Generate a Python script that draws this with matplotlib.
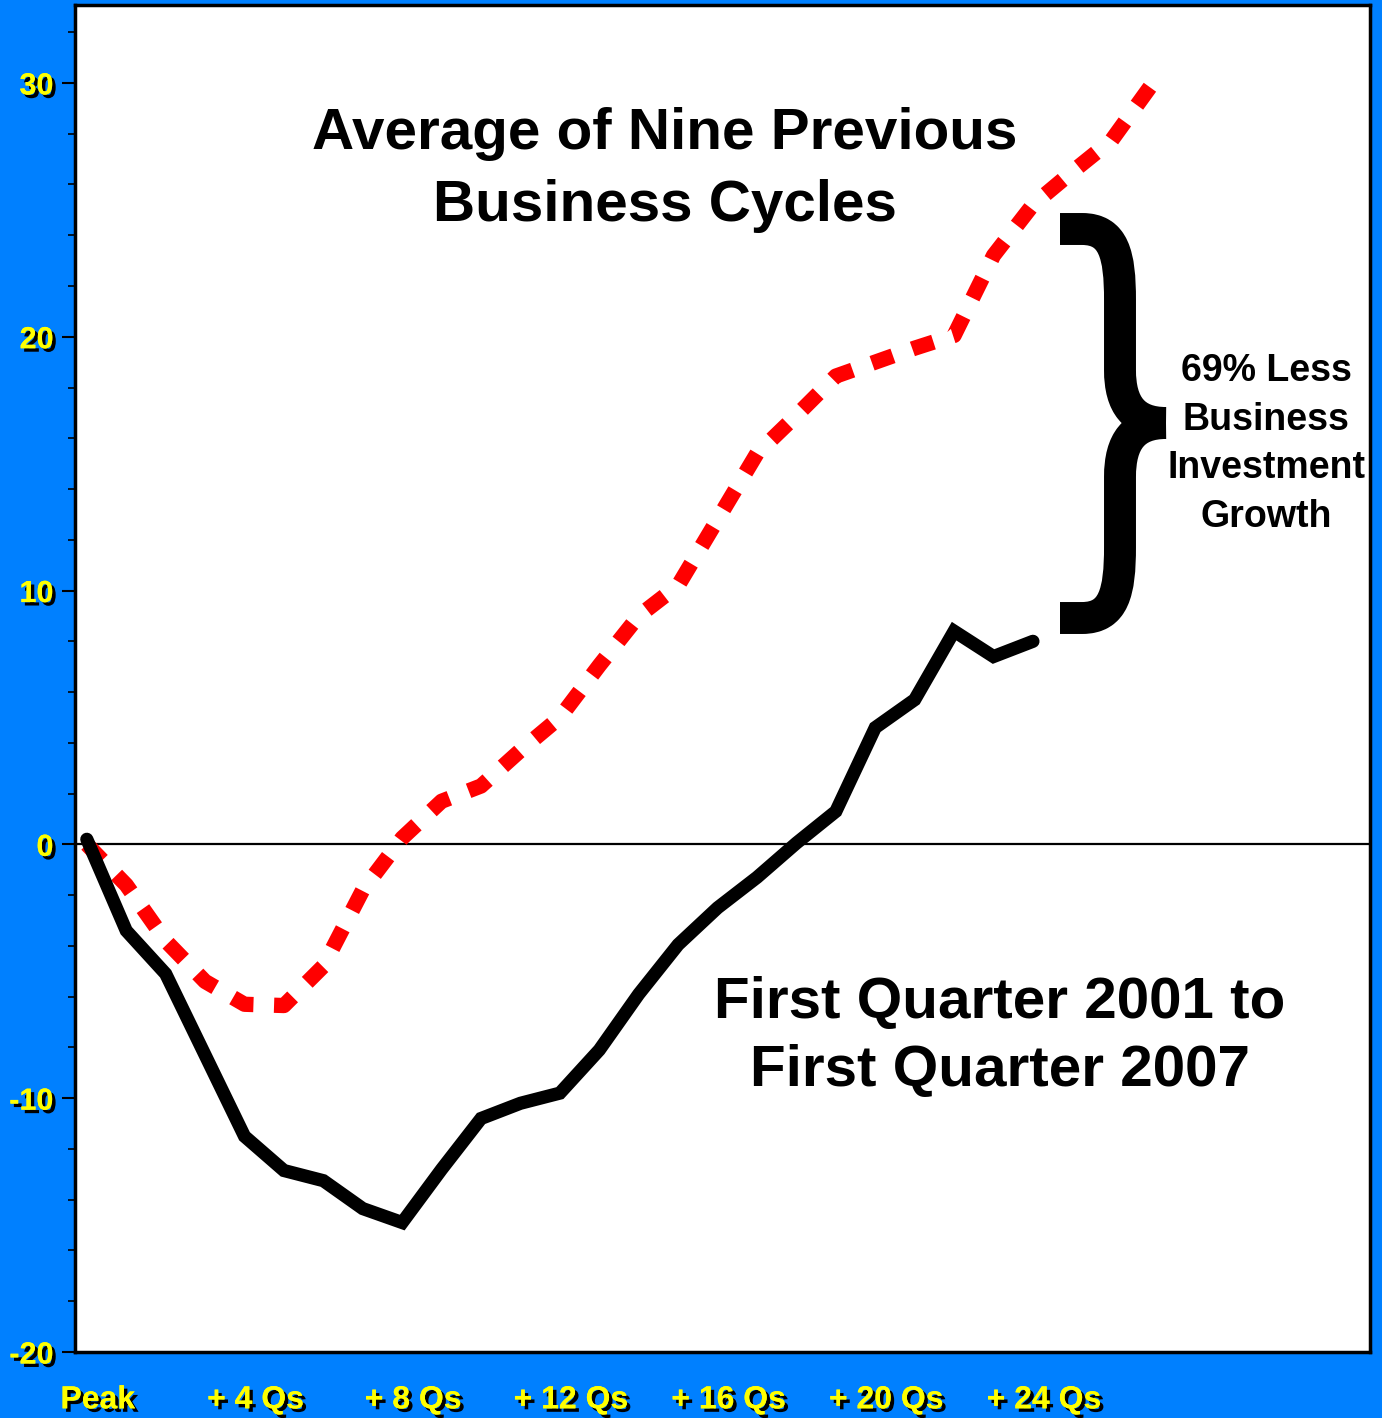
import numpy as np
import matplotlib
matplotlib.use("Agg")
import matplotlib.pyplot as plt
import matplotlib.patheffects as pe
from matplotlib.path import Path
from matplotlib.patches import PathPatch
from matplotlib.transforms import ScaledTranslation

plt.rcParams["axes.unicode_minus"] = False

# quarters after the business-cycle peak
current_q = list(range(0, 25))
current_cycle = [0.2, -3.4, -5.1, -8.3, -11.5, -12.85, -13.25, -14.35, -14.9,
                 -12.8, -10.8, -10.2, -9.8, -8.1, -5.9, -3.95, -2.5, -1.3,
                 0.05, 1.3, 4.6, 5.7, 8.4, 7.4, 8.0]

average_q = list(range(0, 28))
average_cycle = [0.0, -1.6, -3.8, -5.4, -6.3, -6.35, -4.8, -1.8, 0.25, 1.7,
                 2.3, 3.7, 5.0, 7.05, 9.0, 10.2, 12.8, 15.4, 16.9, 18.45,
                 19.0, 19.55, 20.05, 23.2, 25.2, 26.5, 27.75, 29.9]

tick_q = [0, 4, 8, 12, 16, 20, 24]
tick_labels = ["Peak", "+ 4 Qs", "+ 8 Qs", "+ 12 Qs", "+ 16 Qs", "+ 20 Qs", "+ 24 Qs"]

BLUE = "#0080FF"
YELLOW = "#FFFF00"
W, H = 1382, 1418

fig = plt.figure(figsize=(W / 100, H / 100), dpi=100, facecolor=BLUE)
ax = fig.add_axes([75 / W, 1 - 1352 / H, (1370 - 75) / W, (1352 - 5) / H])
ax.set_facecolor("white")

ax.axhline(0, color="black", lw=1.6, zorder=1)
ax.plot(average_q, average_cycle, color="#FF0000", lw=11, ls=(0, (1.45, 1.35)),
        dash_capstyle="butt", zorder=2)
ax.plot(current_q, current_cycle, color="black", lw=9.5, solid_capstyle="round",
        solid_joinstyle="miter", zorder=3)

ax.set_xlim(-0.3, 32.55)
ax.set_ylim(-20, 33.07)

for s in ax.spines.values():
    s.set_linewidth(2.5)
    s.set_color("black")

font = ["Liberation Sans", "DejaVu Sans"]
shadow = [pe.withSimplePatchShadow(offset=(2.5, -2.5), shadow_rgbFace="black", alpha=1.0),
          pe.Normal()]

ax.set_yticks([-20, -10, 0, 10, 20, 30])
ax.set_yticks(np.arange(-20, 34, 2), minor=True)
ax.tick_params(axis="y", which="major", length=9.5, width=1.5, color="black",
               direction="out", pad=6)
ax.tick_params(axis="y", which="minor", length=5, width=1.2, color="black",
               direction="out")
for lab in ax.get_yticklabels():
    lab.set_family(font)
    lab.set_fontweight("bold")
    lab.set_fontsize(22)
    lab.set_color(YELLOW)
    lab.set_path_effects(shadow)

ax.set_xticks(tick_q)
ax.set_xticklabels(tick_labels)
ax.tick_params(axis="x", length=0, pad=24)
shift = ScaledTranslation(11 / 100, 0, fig.dpi_scale_trans)
for lab in ax.get_xticklabels():
    lab.set_family(font)
    lab.set_fontweight("bold")
    lab.set_fontsize(23)
    lab.set_color(YELLOW)
    lab.set_path_effects(shadow)
    lab.set_transform(lab.get_transform() + shift)

fig.text(665 / W, 1 - 170 / H, "Average of Nine Previous\nBusiness Cycles",
         ha="center", va="center", family=font, fontweight="bold", fontsize=42,
         linespacing=1.45)
fig.text(1000 / W, 1 - 1037 / H, "First Quarter 2001 to\nFirst Quarter 2007",
         ha="center", va="center", family=font, fontweight="bold", fontsize=42,
         linespacing=1.34)
fig.text(1266 / W, 1 - 444 / H, "69% Less\nBusiness\nInvestment\nGrowth",
         ha="center", va="center", family=font, fontweight="bold", fontsize=27,
         linespacing=1.45)


# curly brace drawn in figure pixels
def px(x, y):
    return (x / W, 1 - y / H)


top_half = [px(1060, 229), px(1082, 229), px(1114, 229), px(1120, 255), px(1120, 300),
            px(1120, 370), px(1120, 405), px(1134, 423), px(1166, 423)]
bot_half = [px(1060, 618), px(1082, 618), px(1114, 618), px(1120, 592), px(1120, 547),
            px(1120, 477), px(1120, 441), px(1134, 423), px(1166, 423)]
codes = [Path.MOVETO, Path.LINETO, Path.CURVE4, Path.CURVE4, Path.CURVE4,
         Path.LINETO, Path.CURVE4, Path.CURVE4, Path.CURVE4]
for verts in (top_half, bot_half):
    patch = PathPatch(Path(verts, codes), fill=False, lw=23, edgecolor="black",
                      capstyle="butt", joinstyle="round", transform=fig.transFigure)
    fig.add_artist(patch)

fig.savefig("out.png", dpi=100, facecolor=BLUE)
